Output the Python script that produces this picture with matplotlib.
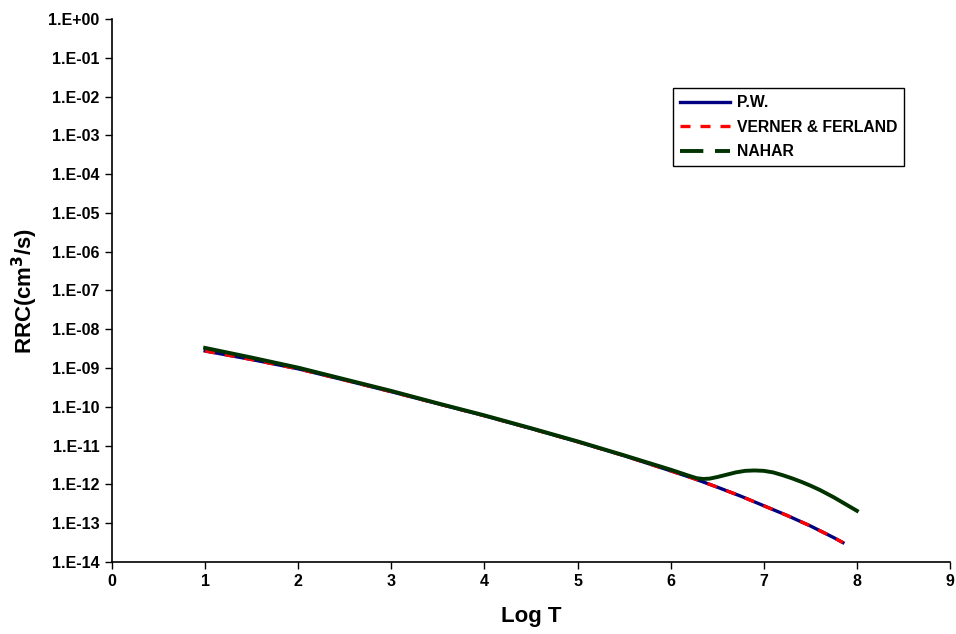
import matplotlib
matplotlib.use("Agg")
import matplotlib.pyplot as plt
import numpy as np
from matplotlib.lines import Line2D
from matplotlib.ticker import FixedLocator, FuncFormatter, NullLocator

plt.rcParams['font.family'] = ['Liberation Sans', 'DejaVu Sans']
plt.rcParams['font.weight'] = 'bold'
plt.rcParams['mathtext.default'] = 'bf'

# log10 of rate coefficient vs log T
pw_logT = [1.0, 1.5, 2.0, 2.5, 3.0, 3.5, 4.0, 4.5, 5.0, 5.5, 6.0, 6.25, 6.5, 6.75, 7.0, 7.25, 7.5, 7.75, 7.85]
pw_logA = [-8.56, -8.78, -9.02, -9.31, -9.61, -9.92, -10.23, -10.56, -10.90, -11.26, -11.65,
           -11.85, -12.07, -12.30, -12.55, -12.80, -13.07, -13.37, -13.50]

vf_logT = pw_logT
vf_logA = pw_logA

nahar_logT = [1.0, 1.5, 2.0, 2.5, 3.0, 3.5, 4.0, 4.5, 5.0, 5.5, 6.0, 6.1, 6.2, 6.28, 6.35, 6.42,
              6.5, 6.6, 6.7, 6.8, 6.9, 7.0, 7.1, 7.2, 7.3, 7.4, 7.5, 7.6, 7.75, 7.9, 8.0]
nahar_logA = [-8.48, -8.73, -8.99, -9.29, -9.59, -9.91, -10.22, -10.55, -10.89, -11.25, -11.62,
              -11.70, -11.78, -11.84, -11.86, -11.85, -11.81, -11.75, -11.69, -11.65, -11.64,
              -11.65, -11.69, -11.76, -11.84, -11.93, -12.03, -12.14, -12.33, -12.54, -12.68]

fig = plt.figure(figsize=(9.56, 6.34), dpi=100)
ax = fig.add_axes([0.1172, 0.1136, 0.8765, 0.8564])

ax.plot(pw_logT, 10 ** np.array(pw_logA), color='#000080', lw=2.4)
ax.plot(vf_logT, 10 ** np.array(vf_logA), color='#ff0000', lw=2.4, ls=(0, (3, 3)))
ax.plot(nahar_logT, 10 ** np.array(nahar_logA), color='#003300', lw=2.8,
        solid_joinstyle='round')

ax.set_yscale('log')
ax.set_xlim(0, 9)
ax.set_ylim(1e-14, 1)
ax.xaxis.set_major_locator(FixedLocator(range(10)))
ax.yaxis.set_major_locator(FixedLocator([10.0 ** e for e in range(-14, 1)]))
ax.yaxis.set_minor_locator(NullLocator())
ax.yaxis.set_major_formatter(FuncFormatter(lambda v, p: "1.E{:+03d}".format(int(round(np.log10(v))))))

for s in ['top', 'right']:
    ax.spines[s].set_visible(False)
for s in ['left', 'bottom']:
    ax.spines[s].set_linewidth(1.2)
ax.tick_params(direction='out', length=5, width=1, labelsize=11.5, pad=4)
for lab in ax.get_xticklabels() + ax.get_yticklabels():
    lab.set_fontweight('bold')

ax.set_xlabel('Log T', fontsize=16, fontweight='bold', labelpad=12)
ax.set_ylabel('RRC(cm$^3$/s)', fontsize=16, fontweight='bold', labelpad=6)

handles = [Line2D([], [], color='#000080', lw=2.4),
           Line2D([], [], color='#ff0000', lw=2.4, ls=(0, (3, 3))),
           Line2D([], [], color='#003300', lw=2.8, ls=(0, (6, 3)))]
leg = ax.legend(handles, ['P.W.', 'VERNER & FERLAND', 'NAHAR'],
                loc='upper left', bbox_to_anchor=(0.704, 0.861), bbox_transform=fig.transFigure,
                borderaxespad=0, fancybox=False, framealpha=1, edgecolor='black', fontsize=11.3,
                handlelength=3.2, borderpad=0.45, labelspacing=0.6, handletextpad=0.4)
leg.get_frame().set_linewidth(1.0)
for t in leg.get_texts():
    t.set_fontweight('bold')

fig.savefig('out.png', dpi=100)
